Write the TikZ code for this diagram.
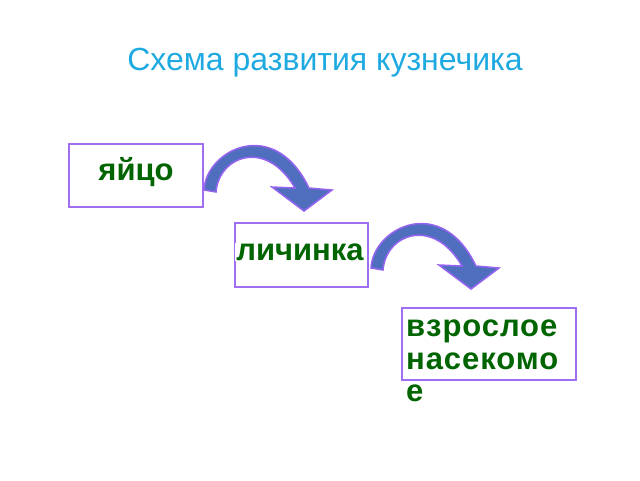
\documentclass[tikz,border=0pt]{standalone}
\usepackage{fontspec}
\setmainfont{Liberation Sans}
\begin{document}
\begin{tikzpicture}[x=1pt,y=-1pt,
  box/.style={draw=boxc,line width=2.6pt},
  lbl/.style={text=lblc,font=\fontsize{31}{33}\selectfont\bfseries},
  bend/.pic={
    \fill[arrc,draw=arrb,line width=1.5pt] (0,0) .. controls (2,-40) and (70,-75) .. (105,-2)
      -- (128,0) -- (100,21) -- (68,-3) -- (91,-2)
      .. controls (62,-52) and (15,-34) .. (12,2) -- cycle;
  }]
\definecolor{boxc}{RGB}{160,110,240}
\definecolor{lblc}{RGB}{0,100,0}
\definecolor{arrc}{RGB}{80,110,190}
\definecolor{arrb}{RGB}{150,100,240}
\definecolor{titc}{RGB}{30,170,225}
\useasboundingbox (0,0) rectangle (640,480);
\node[text=titc,font=\fontsize{32}{36}\selectfont] (t) at (325,63) {Схема развития кузнечика};
\draw[box] (69,144) rectangle (203,207);
\node[lbl] (a) at (136,172) {яйцо};
\draw[box] (235,223) rectangle (368,287);
\node[lbl,fill=white,inner sep=1pt] (b) at (300,252) {личинка};
\draw[box] (402,308) rectangle (576,380);
\node[lbl,anchor=north west,align=left,inner sep=0pt,font=\fontsize{31}{32.5}\selectfont\bfseries] (c) at (406,320) {\addfontfeature{LetterSpace=3}взрослое\\\addfontfeature{LetterSpace=3}насекомо\\е};
\pic at (204,190) {bend};
\pic at (371,268) {bend};
\end{tikzpicture}
\end{document}
